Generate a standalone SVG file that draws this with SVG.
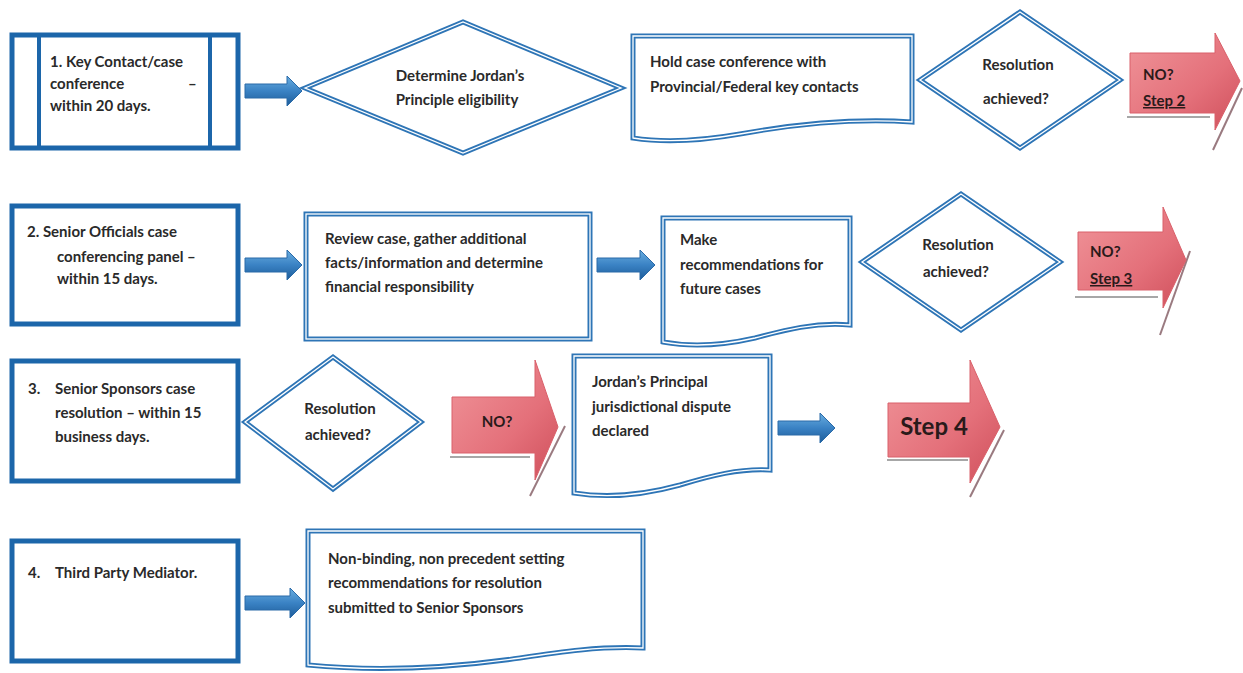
<svg xmlns="http://www.w3.org/2000/svg" width="1243" height="673" viewBox="0 0 1243 673">
<defs>
<linearGradient id="bg" x1="0" y1="0" x2="0" y2="1">
<stop offset="0" stop-color="#6aaee0"/><stop offset="0.5" stop-color="#3a82c4"/><stop offset="1" stop-color="#1d5c99"/>
</linearGradient>
<linearGradient id="rg" x1="0" y1="0" x2="1" y2="1">
<stop offset="0" stop-color="#f0959a"/><stop offset="0.6" stop-color="#e4707a"/><stop offset="1" stop-color="#cf4f5b"/>
</linearGradient>
<style>
.step{fill:#fff;stroke:#1c66aa;stroke-width:5}
.bar{stroke:#1c66aa;stroke-width:4}
.dbl{fill:#fff;stroke:#2e75b6;stroke-width:5;stroke-linejoin:miter}
.inner{fill:none;stroke:#fff;stroke-width:1.3;stroke-linejoin:miter}
.barrow{fill:url(#bg);stroke:#2a6aa8;stroke-width:1}
.rarrow{fill:url(#rg);stroke:#d9606a;stroke-width:1}
.shadow{stroke:#9a7a80;stroke-width:2;fill:none}
.uline{stroke:#8a8a8a;stroke-width:1.5}
text{font-family:Lato,"Liberation Sans",sans-serif;font-weight:bold;font-size:15px;fill:#2a2a2a}
.c{text-anchor:middle}
.rt{fill:#2a1a1a;font-size:15px}
</style>
</defs>

<!-- Row 1 -->
<g id="step1">
<rect class="step" x="12" y="35" width="226" height="113"/>
<line class="bar" x1="39" y1="35" x2="39" y2="148"/>
<line class="bar" x1="210" y1="35" x2="210" y2="148"/>
<text x="50" y="67">1.  Key Contact/case</text>
<text x="50" y="89">conference</text>
<text x="188" y="89">–</text>
<text x="50" y="111">within 20 days.</text>
</g>

<g id="determine">
<polygon class="dbl" points="305,88 463,22 621,88 463,153"/>
<polygon class="inner" points="305,88 463,22 621,88 463,153"/>
<text class="c" x="460" y="81">Determine Jordan’s</text>
<text class="c" x="457" y="105">Principle eligibility</text>
</g>

<g id="hold">
<path class="dbl" d="M633,36 H912 V122 C850,118 790,125 740,134 C700,141 665,143 633,138 Z"/>
<path class="inner" d="M633,36 H912 V122 C850,118 790,125 740,134 C700,141 665,143 633,138 Z"/>
<text x="650" y="67">Hold case conference with</text>
<text x="650" y="92">Provincial/Federal key contacts</text>
</g>

<g id="res1">
<polygon class="dbl" points="920,80 1020,12 1120,80 1020,148"/>
<polygon class="inner" points="920,80 1020,12 1120,80 1020,148"/>
<text class="c" x="1018" y="70">Resolution</text>
<text class="c" x="1016" y="104">achieved?</text>
</g>

<g id="no2">
<line class="shadow" x1="1242" y1="88" x2="1213" y2="150"/>
<polygon class="rarrow" points="1130,53 1215,53 1215,33 1240,81 1215,130 1215,113 1130,113"/>
<text class="rt" x="1143" y="80">NO?</text>
<text class="rt" x="1143" y="106" text-decoration="underline">Step 2</text>
<line class="uline" x1="1127" y1="117" x2="1210" y2="117"/>
</g>

<!-- Row 2 -->
<g id="step2">
<rect class="step" x="12" y="206" width="226" height="118"/>
<text x="27" y="237">2.  Senior Officials case</text>
<text x="57" y="262">conferencing panel –</text>
<text x="57" y="284">within 15 days.</text>
</g>

<g id="review">
<rect class="dbl" x="306" y="214" width="284" height="125"/>
<rect class="inner" x="306" y="214" width="284" height="125"/>
<text x="325" y="244">Review  case, gather additional</text>
<text x="325" y="268">facts/information and determine</text>
<text x="325" y="292">financial responsibility</text>
</g>

<g id="make">
<path class="dbl" d="M663,218 H850 V325 C815,322 785,330 755,338 C720,346 690,347 663,342 Z"/>
<path class="inner" d="M663,218 H850 V325 C815,322 785,330 755,338 C720,346 690,347 663,342 Z"/>
<text x="680" y="245">Make</text>
<text x="680" y="270">recommendations for</text>
<text x="680" y="294">future cases</text>
</g>

<g id="res2">
<polygon class="dbl" points="862,262 961,194 1060,262 961,330"/>
<polygon class="inner" points="862,262 961,194 1060,262 961,330"/>
<text class="c" x="958" y="250">Resolution</text>
<text class="c" x="956" y="277">achieved?</text>
</g>

<g id="no3">
<line class="shadow" x1="1190" y1="251" x2="1160" y2="335"/>
<polygon class="rarrow" points="1078,232 1163,232 1163,207 1186,260 1163,308 1163,290 1078,290"/>
<text class="rt" x="1090" y="257">NO?</text>
<text class="rt" x="1090" y="284" text-decoration="underline">Step 3</text>
<line class="uline" x1="1075" y1="297" x2="1158" y2="297"/>
</g>

<!-- Row 3 -->
<g id="step3">
<rect class="step" x="12" y="361" width="226" height="120"/>
<text x="28" y="394">3.</text>
<text x="55" y="394">Senior Sponsors case</text>
<text x="55" y="418">resolution – within 15</text>
<text x="55" y="442">business days.</text>
</g>

<g id="res3">
<polygon class="dbl" points="245,422 333,357 421,422 333,489"/>
<polygon class="inner" points="245,422 333,357 421,422 333,489"/>
<text class="c" x="340" y="414">Resolution</text>
<text class="c" x="338" y="440">achieved?</text>
</g>

<g id="no">
<line class="shadow" x1="565" y1="426" x2="530" y2="496"/>
<line class="uline" x1="450" y1="457" x2="530" y2="457"/>
<polygon class="rarrow" points="452,397 535,397 535,360 558,427 535,480 535,453 452,453"/>
<text class="rt c" x="497" y="427">NO?</text>
</g>

<g id="dispute">
<path class="dbl" d="M574,356 H770 V470 C740,468 710,476 680,485 C640,496 605,498 574,493 Z"/>
<path class="inner" d="M574,356 H770 V470 C740,468 710,476 680,485 C640,496 605,498 574,493 Z"/>
<text x="592" y="387">Jordan’s Principal</text>
<text x="592" y="412">jurisdictional dispute</text>
<text x="592" y="436">declared</text>
</g>

<g id="step4arrow">
<line class="shadow" x1="1004" y1="430" x2="970" y2="497"/>
<line class="uline" x1="887" y1="460" x2="968" y2="460"/>
<polygon class="rarrow" points="888,403 970,403 970,360 1000,427 970,483 970,457 888,457"/>
<text class="rt c" x="934" y="435" style="font-size:24px">Step 4</text>
</g>

<!-- Row 4 -->
<g id="step4">
<rect class="step" x="12" y="541" width="226" height="120"/>
<text x="28" y="578">4.</text>
<text x="55" y="578">Third Party Mediator.</text>
</g>

<g id="mediator">
<path class="dbl" d="M308,531 H643 V648 C600,646 560,652 520,658 C450,668 380,672 308,665 Z"/>
<path class="inner" d="M308,531 H643 V648 C600,646 560,652 520,658 C450,668 380,672 308,665 Z"/>
<text x="328" y="564">Non-binding, non precedent setting</text>
<text x="328" y="588">recommendations for resolution</text>
<text x="328" y="613">submitted to Senior Sponsors</text>
</g>

<!-- Connectors -->
<g id="connectors">
<polygon class="barrow" points="245,84 287,84 287,76 302,91 287,106 287,98 245,98"/>
<polygon class="barrow" points="245,258 287,258 287,250 302,265 287,280 287,272 245,272"/>
<polygon class="barrow" points="597,258 640,258 640,250 655,265 640,280 640,272 597,272"/>
<polygon class="barrow" points="778,421 820,421 820,413 835,428 820,443 820,435 778,435"/>
<polygon class="barrow" points="245,596 290,596 290,588 305,603 290,618 290,610 245,610"/>
</g>
</svg>
